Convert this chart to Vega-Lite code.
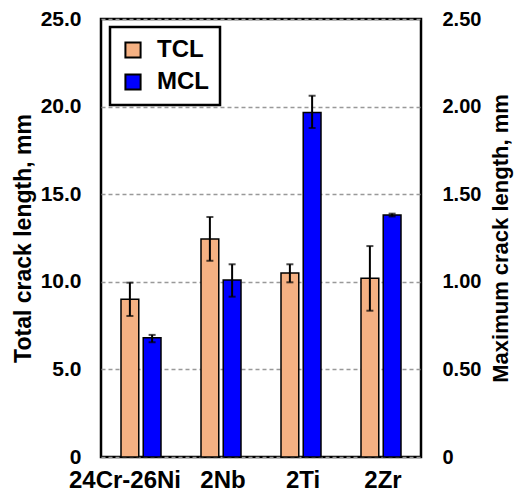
{
  "$schema": "https://vega.github.io/schema/vega-lite/v6.json",
  "width": 320,
  "height": 438,
  "autosize": {"type": "none"},
  "padding": {"left": 101, "top": 19, "right": 96, "bottom": 42},
  "config": {
    "font": "Liberation Sans",
    "view": {"stroke": "black", "strokeWidth": 2.5},
    "axis": {
      "labelFont": "Liberation Sans",
      "labelFontWeight": "bold",
      "labelColor": "black",
      "titleFont": "Liberation Sans",
      "titleFontWeight": "bold",
      "titleColor": "black",
      "ticks": false,
      "domain": false
    },
    "legend": {
      "orient": "none",
      "legendX": 9,
      "legendY": 8,
      "strokeColor": "black",
      "padding": 11,
      "labelFont": "Liberation Sans",
      "labelFontSize": 24,
      "labelFontWeight": "bold",
      "labelColor": "black",
      "labelOffset": 12,
      "symbolType": "square",
      "symbolSize": 230,
      "symbolStrokeColor": "black",
      "symbolStrokeWidth": 2,
      "rowPadding": 8
    }
  },
  "data": {
    "values": [
      {"group": "24Cr-26Ni", "series": "TCL", "value": 9.0, "lo": 8.05, "hi": 9.95},
      {"group": "24Cr-26Ni", "series": "MCL", "value": 0.68, "lo": 0.655, "hi": 0.697},
      {"group": "2Nb", "series": "TCL", "value": 12.45, "lo": 11.2, "hi": 13.7},
      {"group": "2Nb", "series": "MCL", "value": 1.01, "lo": 0.915, "hi": 1.1},
      {"group": "2Ti", "series": "TCL", "value": 10.5, "lo": 9.97, "hi": 11.0},
      {"group": "2Ti", "series": "MCL", "value": 1.967, "lo": 1.878, "hi": 2.062},
      {"group": "2Zr", "series": "TCL", "value": 10.2, "lo": 8.35, "hi": 12.04},
      {"group": "2Zr", "series": "MCL", "value": 1.381, "lo": 1.373, "hi": 1.389}
    ]
  },
  "encoding": {
    "x": {
      "field": "group",
      "type": "nominal",
      "sort": ["24Cr-26Ni", "2Nb", "2Ti", "2Zr"],
      "scale": {"paddingInner": 0.5, "paddingOuter": 0.25},
      "axis": {
        "title": null,
        "labelAngle": 0,
        "labelFontSize": 24,
        "labelPadding": 11,
        "grid": false,
        "labelOffset": {"condition": {"test": "datum.value === '24Cr-26Ni'", "value": -16}, "value": 2}
      }
    },
    "xOffset": {
      "field": "series",
      "type": "nominal",
      "sort": ["TCL", "MCL"],
      "scale": {"paddingInner": 0.2}
    }
  },
  "layer": [
    {
      "transform": [{"filter": "datum.series === 'TCL'"}],
      "layer": [
        {
          "mark": {"type": "bar", "stroke": "black", "strokeWidth": 1.5},
          "encoding": {
            "y": {
              "field": "value",
              "type": "quantitative",
              "title": "Total crack length, mm",
              "scale": {"domain": [0, 25], "nice": false},
              "axis": {
                "orient": "left",
                "values": [0, 5, 10, 15, 20, 25],
                "labelExpr": "datum.value == 0 ? '0' : format(datum.value, '.1f')",
                "labelFontSize": 21,
                "labelPadding": 20,
                "labelFlush": false,
                "titleFontSize": 23,
                "titlePadding": 5,
                "grid": true,
                "gridDash": [4, 3],
                "gridColor": "#999999",
                "gridWidth": 1.5
              }
            },
            "color": {
              "field": "series",
              "type": "nominal",
              "scale": {"domain": ["TCL", "MCL"], "range": ["#F5B183", "#0000FF"]},
              "legend": {"title": null, "encode": {"legend": {"update": {"strokeWidth": {"value": 2.5}}}}}
            }
          }
        },
        {
          "mark": {"type": "rule", "color": "black", "strokeWidth": 2},
          "encoding": {
            "y": {"field": "lo", "type": "quantitative", "title": "Total crack length, mm"},
            "y2": {"field": "hi"}
          }
        },
        {
          "mark": {"type": "tick", "color": "black", "size": 7, "thickness": 2},
          "encoding": {"y": {"field": "lo", "type": "quantitative", "title": "Total crack length, mm"}}
        },
        {
          "mark": {"type": "tick", "color": "black", "size": 7, "thickness": 2},
          "encoding": {"y": {"field": "hi", "type": "quantitative", "title": "Total crack length, mm"}}
        }
      ]
    },
    {
      "transform": [{"filter": "datum.series === 'MCL'"}],
      "layer": [
        {
          "mark": {"type": "bar", "stroke": "black", "strokeWidth": 1.5},
          "encoding": {
            "y": {
              "field": "value",
              "type": "quantitative",
              "title": "Maximum crack length, mm",
              "scale": {"domain": [0, 2.5], "nice": false},
              "axis": {
                "orient": "right",
                "values": [0, 0.5, 1, 1.5, 2, 2.5],
                "labelExpr": "datum.value == 0 ? '0' : format(datum.value, '.2f')",
                "labelFontSize": 20,
                "labelPadding": 21,
                "labelFlush": false,
                "titleFontSize": 22,
                "titleAngle": 270,
                "titleBaseline": "top",
                "titlePadding": 10,
                "grid": false
              }
            },
            "color": {"field": "series", "type": "nominal"}
          }
        },
        {
          "mark": {"type": "rule", "color": "black", "strokeWidth": 2},
          "encoding": {
            "y": {"field": "lo", "type": "quantitative", "title": "Maximum crack length, mm"},
            "y2": {"field": "hi"}
          }
        },
        {
          "mark": {"type": "tick", "color": "black", "size": 7, "thickness": 2},
          "encoding": {"y": {"field": "lo", "type": "quantitative", "title": "Maximum crack length, mm"}}
        },
        {
          "mark": {"type": "tick", "color": "black", "size": 7, "thickness": 2},
          "encoding": {"y": {"field": "hi", "type": "quantitative", "title": "Maximum crack length, mm"}}
        }
      ]
    }
  ],
  "resolve": {"scale": {"y": "independent"}}
}
